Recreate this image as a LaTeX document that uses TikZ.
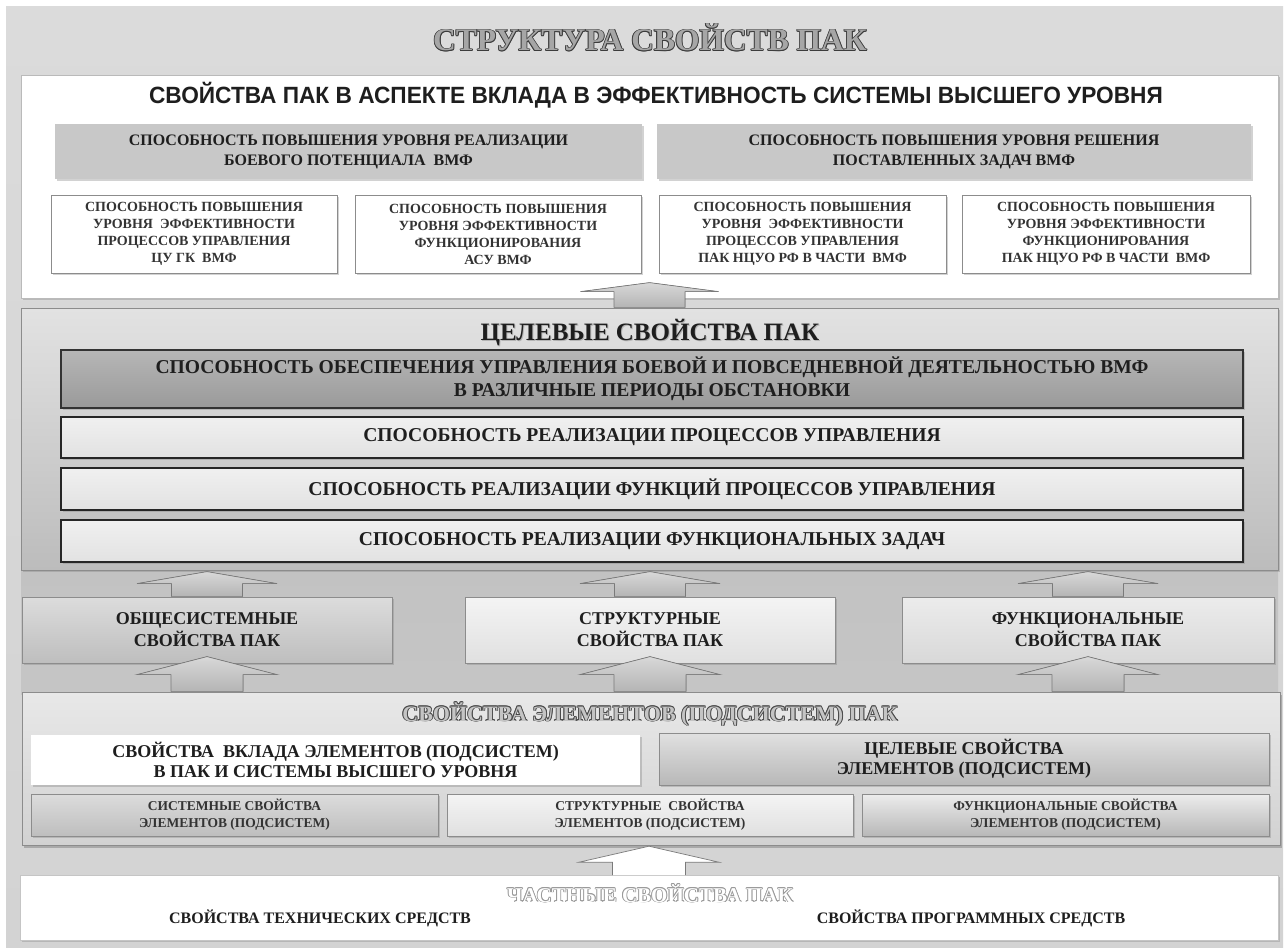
\documentclass[tikz,border=0pt]{standalone}
\usepackage{fontspec}
\setmainfont{Liberation Serif}
\newfontfamily\subsans{Liberation Sans}
\usepackage{graphicx}
\usetikzlibrary{calc,shadows}

\definecolor{cBgTop}{HTML}{DBDBDB}
\definecolor{cBgBot}{HTML}{D3D3D3}
\definecolor{cBand}{HTML}{C2C2C2}
\definecolor{cText}{HTML}{1E1E1E}
\definecolor{cTextSoft}{HTML}{333333}
\definecolor{cGrayBox}{HTML}{C8C8C8}
\definecolor{cLine}{HTML}{8C8C8C}
\definecolor{cMidTop}{HTML}{E2E2E2}
\definecolor{cMidBot}{HTML}{BCBCBC}
\definecolor{cDarkTop}{HTML}{B6B6B6}
\definecolor{cDarkBot}{HTML}{9A9A9A}
\definecolor{cLightTop}{HTML}{F0F0F0}
\definecolor{cLightBot}{HTML}{E2E2E2}
\definecolor{cPropATop}{HTML}{DCDCDC}
\definecolor{cPropABot}{HTML}{BEBEBE}
\definecolor{cPropBTop}{HTML}{F4F4F4}
\definecolor{cPropBBot}{HTML}{E0E0E0}
\definecolor{cPropCTop}{HTML}{ECECEC}
\definecolor{cPropCBot}{HTML}{D8D8D8}
\definecolor{cElTop}{HTML}{E8E8E8}
\definecolor{cElBot}{HTML}{D2D2D2}
\definecolor{cTgtTop}{HTML}{E0E0E0}
\definecolor{cTgtBot}{HTML}{B8B8B8}
\definecolor{cArrTop}{HTML}{D8D8D8}
\definecolor{cArrBot}{HTML}{B4B4B4}
\definecolor{cArrLine}{HTML}{7A7A7A}
\definecolor{cTitleFill}{HTML}{A6A6A6}
\definecolor{cTitleLine}{HTML}{3C3C3C}
\definecolor{cElTitleFill}{HTML}{C4C4C4}
\definecolor{cElTitleLine}{HTML}{4A4A4A}
\definecolor{cPartFill}{HTML}{FFFFFF}
\definecolor{cPartLine}{HTML}{9A9A9A}
\definecolor{cTextShadow}{HTML}{B4B4B4}

\newcommand\fs[2]{\fontsize{#1}{#2}\selectfont}
\newcommand\outlpart[3]{\rlap{\kern#1\raisebox{#2}{#3}}}
\newcommand\embossed[3]{%
  \leavevmode
  \outlpart{0.9pt}{0pt}{\textcolor{#2}{#3}}%
  \outlpart{-0.9pt}{0pt}{\textcolor{#2}{#3}}%
  \outlpart{0pt}{0.9pt}{\textcolor{#2}{#3}}%
  \outlpart{0pt}{-0.9pt}{\textcolor{#2}{#3}}%
  \outlpart{0.65pt}{0.65pt}{\textcolor{#2}{#3}}%
  \outlpart{-0.65pt}{0.65pt}{\textcolor{#2}{#3}}%
  \outlpart{0.65pt}{-0.65pt}{\textcolor{#2}{#3}}%
  \outlpart{-0.65pt}{-0.65pt}{\textcolor{#2}{#3}}%
  \textcolor{#1}{#3}}
\newcommand\softshadow[3]{%
  \leavevmode\outlpart{1pt}{-1pt}{\textcolor{#2}{#3}}\textcolor{#1}{#3}}

% block arrow: #1 bottom-centre coordinate, #2 length, #3 head length,
% #4 head half width, #5 shaft half width, #6 fill style
\newcommand\blockup[6]{%
  \path #1 coordinate (ab);
  \fill[#6] ($(ab)+(-#5,0)$) -- ($(ab)+(#5,0)$) -- ($(ab)+(#5,-#2+#3)$)
     -- ($(ab)+(#4,-#2+#3)$) -- ($(ab)+(0,-#2)$) -- ($(ab)+(-#4,-#2+#3)$)
     -- ($(ab)+(-#5,-#2+#3)$) -- cycle;
  \draw[arrline] ($(ab)+(#5,0)$) -- ($(ab)+(#5,-#2+#3)$)
     -- ($(ab)+(#4,-#2+#3)$) -- ($(ab)+(0,-#2)$) -- ($(ab)+(-#4,-#2+#3)$)
     -- ($(ab)+(-#5,-#2+#3)$) -- ($(ab)+(-#5,0)$);}

\tikzset{
  box/.style={inner sep=0pt, align=center, text=cText, font=\bfseries},
  shad/.style={drop shadow={opacity=0.35, shadow xshift=1.5pt, shadow yshift=-1.5pt}},
  topbox/.style={box, fill=white, draw=cLine!60, line width=0.6pt, shad},
  graybox/.style={box, fill=cGrayBox, shad, font=\bfseries\fs{16}{20}},
  outbox/.style={box, fill=white, draw=cLine, line width=0.8pt, shad, text=cTextSoft, font=\bfseries\fs{14}{17}},
  midsec/.style={box, top color=cMidTop, bottom color=cMidBot, draw=cLine, line width=0.8pt, shad},
  darkbox/.style={box, top color=cDarkTop, bottom color=cDarkBot, draw=black!80, line width=1.6pt, shad, font=\bfseries\fs{19.6}{23}},
  lightbox/.style={box, top color=cLightTop, bottom color=cLightBot, draw=black!85, line width=1.8pt, shad, font=\bfseries\fs{19.6}{23}},
  propbox/.style={box, draw=cLine, line width=0.8pt, shad, font=\bfseries\fs{18}{22}},
  elsec/.style={box, top color=cElTop, bottom color=cElBot, draw=cLine, line width=0.8pt, drop shadow={opacity=0.5, shadow xshift=2pt, shadow yshift=-2.5pt}},
  elbox/.style={box, line width=0.6pt, shad, font=\bfseries\fs{18}{20}},
  smallbox/.style={box, draw=cLine, line width=0.6pt, shad, text=cTextSoft, font=\bfseries\fs{13.5}{17}},
  partbox/.style={box, fill=white, draw=cLine!50, line width=0.6pt, shad},
  arrfill/.style={top color=cArrTop, bottom color=cArrBot},
  arrwhite/.style={fill=white},
  arrline/.style={draw=cArrLine, line width=0.7pt, line join=miter},
}

\begin{document}
\begin{tikzpicture}[x=1pt,y=-1pt]
\useasboundingbox (0,0) rectangle (1287,950);
\fill[top color=cBgTop, bottom color=cBgBot] (6,7) rectangle (1283,947);
\fill[top color=cBand, bottom color=cBand!80!cBgBot] (21,566) rectangle (1278,694);

% ---- title
\node[anchor=base, inner sep=0pt] (title) at (650,51)
  {\fs{31.5}{36}\bfseries\embossed{cTitleFill}{cTitleLine}{СТРУКТУРА СВОЙСТВ ПАК}};

% ---- top block
\node[topbox, minimum width=1257pt, minimum height=223pt] (top) at (649.5,186.5) {};
\node[anchor=base, inner sep=0pt, text=cText] (sub) at (656,103)
  {\subsans\bfseries\fs{23.5}{26}\scalebox{0.965}[1]{СВОЙСТВА ПАК В АСПЕКТЕ ВКЛАДА В ЭФФЕКТИВНОСТЬ СИСТЕМЫ ВЫСШЕГО УРОВНЯ}};

\node[graybox, minimum width=587pt, minimum height=55pt] (ga) at (348.5,151.5)
  {СПОСОБНОСТЬ ПОВЫШЕНИЯ УРОВНЯ РЕАЛИЗАЦИИ\\БОЕВОГО ПОТЕНЦИАЛА\ \ ВМФ};
\node[graybox, minimum width=594pt, minimum height=55pt] (gb) at (954,151.5)
  {СПОСОБНОСТЬ ПОВЫШЕНИЯ УРОВНЯ РЕШЕНИЯ\\ПОСТАВЛЕННЫХ ЗАДАЧ ВМФ};

\node[outbox, minimum width=286pt, minimum height=78pt] (p1) at (194,234)
  {СПОСОБНОСТЬ ПОВЫШЕНИЯ\\УРОВНЯ\ \ ЭФФЕКТИВНОСТИ\\ПРОЦЕССОВ УПРАВЛЕНИЯ\\ЦУ ГК\ \ ВМФ};
\node[outbox, minimum width=286pt, minimum height=78pt] (p2) at (498,234)
  {СПОСОБНОСТЬ ПОВЫШЕНИЯ\\УРОВНЯ ЭФФЕКТИВНОСТИ\\ФУНКЦИОНИРОВАНИЯ\\АСУ ВМФ};
\node[outbox, minimum width=287pt, minimum height=78pt] (p3) at (802.5,234)
  {СПОСОБНОСТЬ ПОВЫШЕНИЯ\\УРОВНЯ\ \ ЭФФЕКТИВНОСТИ\\ПРОЦЕССОВ УПРАВЛЕНИЯ\\ПАК НЦУО РФ В ЧАСТИ\ \ ВМФ};
\node[outbox, minimum width=288pt, minimum height=78pt] (p4) at (1106,234)
  {СПОСОБНОСТЬ ПОВЫШЕНИЯ\\УРОВНЯ ЭФФЕКТИВНОСТИ\\ФУНКЦИОНИРОВАНИЯ\\ПАК НЦУО РФ В ЧАСТИ\ \ ВМФ};

% ---- target properties block
\node[midsec, minimum width=1257pt, minimum height=262pt] (mid) at (649.5,439) {};
\node[anchor=base, inner sep=0pt, text=cText] (midtitle) at (650,340.5)
  {\fs{25}{28}\bfseries\softshadow{cText}{cTextShadow}{ЦЕЛЕВЫЕ СВОЙСТВА ПАК}};
\node[darkbox, minimum width=1182pt, minimum height=58pt] (d0) at (652,379)
  {СПОСОБНОСТЬ ОБЕСПЕЧЕНИЯ УПРАВЛЕНИЯ БОЕВОЙ И ПОВСЕДНЕВНОЙ ДЕЯТЕЛЬНОСТЬЮ ВМФ\\В РАЗЛИЧНЫЕ ПЕРИОДЫ ОБСТАНОВКИ};
\node[lightbox, minimum width=1182pt, minimum height=41pt] (d1) at (652,437.5)
  {СПОСОБНОСТЬ РЕАЛИЗАЦИИ ПРОЦЕССОВ УПРАВЛЕНИЯ};
\node[lightbox, minimum width=1182pt, minimum height=42pt] (d2) at (652,489)
  {СПОСОБНОСТЬ РЕАЛИЗАЦИИ ФУНКЦИЙ ПРОЦЕССОВ УПРАВЛЕНИЯ};
\node[lightbox, minimum width=1182pt, minimum height=42pt] (d3) at (652,541)
  {СПОСОБНОСТЬ РЕАЛИЗАЦИИ ФУНКЦИОНАЛЬНЫХ ЗАДАЧ};

% ---- three property groups
\node[propbox, top color=cPropATop, bottom color=cPropABot, minimum width=370pt, minimum height=66pt] (gen) at (207,630)
  {ОБЩЕСИСТЕМНЫЕ\\СВОЙСТВА ПАК};
\node[propbox, top color=cPropBTop, bottom color=cPropBBot, minimum width=370pt, minimum height=66pt] (str) at (650,630)
  {СТРУКТУРНЫЕ\\СВОЙСТВА ПАК};
\node[propbox, top color=cPropCTop, bottom color=cPropCBot, minimum width=372pt, minimum height=66pt] (fun) at (1088,630)
  {ФУНКЦИОНАЛЬНЫЕ\\СВОЙСТВА ПАК};

% ---- element properties block
\node[elsec, minimum width=1258pt, minimum height=153pt] (el) at (651,768.5) {};
\node[anchor=base, inner sep=0pt] (eltitle) at (650,721)
  {\fs{22}{24}\bfseries\embossed{cElTitleFill}{cElTitleLine}{СВОЙСТВА ЭЛЕМЕНТОВ (ПОДСИСТЕМ) ПАК}};
\node[elbox, fill=white, minimum width=609pt, minimum height=50pt] (contrib) at (335.5,760)
  {СВОЙСТВА\ \ ВКЛАДА ЭЛЕМЕНТОВ (ПОДСИСТЕМ)\\В ПАК И СИСТЕМЫ ВЫСШЕГО УРОВНЯ};
\node[elbox, top color=cTgtTop, bottom color=cTgtBot, draw=cLine, minimum width=610pt, minimum height=52pt] (tgt) at (964,759)
  {ЦЕЛЕВЫЕ СВОЙСТВА\\ЭЛЕМЕНТОВ (ПОДСИСТЕМ)};
\node[smallbox, top color=cPropATop, bottom color=cPropABot, minimum width=407pt, minimum height=42pt] (s1) at (234.5,815)
  {СИСТЕМНЫЕ СВОЙСТВА\\ЭЛЕМЕНТОВ (ПОДСИСТЕМ)};
\node[smallbox, top color=cPropBTop, bottom color=cPropBBot, minimum width=406pt, minimum height=42pt] (s2) at (650,815)
  {СТРУКТУРНЫЕ\ \ СВОЙСТВА\\ЭЛЕМЕНТОВ (ПОДСИСТЕМ)};
\node[smallbox, top color=cPropCTop, bottom color=cTgtBot, minimum width=407pt, minimum height=42pt] (s3) at (1065.5,815)
  {ФУНКЦИОНАЛЬНЫЕ СВОЙСТВА\\ЭЛЕМЕНТОВ (ПОДСИСТЕМ)};

% ---- particular properties block
\node[partbox, minimum width=1258pt, minimum height=65pt] (part) at (649,908) {};
\node[anchor=base, inner sep=0pt] (parttitle) at (650,902)
  {\fs{21}{24}\bfseries\embossed{cPartFill}{cPartLine}{ЧАСТНЫЕ СВОЙСТВА ПАК}};
\node[anchor=base, inner sep=0pt, text=cText] (tech) at (320,923)
  {\fs{16}{18}\bfseries СВОЙСТВА ТЕХНИЧЕСКИХ СРЕДСТВ};
\node[anchor=base, inner sep=0pt, text=cText] (soft) at (971,923)
  {\fs{16}{18}\bfseries СВОЙСТВА ПРОГРАММНЫХ СРЕДСТВ};

% ---- block arrows
\blockup{(mid.north)}{25}{9}{69}{35.5}{arrfill}
\blockup{(gen.north)}{25}{12}{70}{35.5}{arrfill}
\blockup{(str.north)}{25}{12}{70}{35.5}{arrfill}
\blockup{(fun.north)}{25}{12}{70}{35.5}{arrfill}
\blockup{(el.north -| gen.south)}{35}{18}{70}{36}{arrfill}
\blockup{(el.north -| str.south)}{35}{18}{70}{36}{arrfill}
\blockup{(el.north -| fun.south)}{35}{18}{70}{36}{arrfill}
\blockup{(part.north)}{29}{16}{70}{36.5}{arrwhite}
\end{tikzpicture}
\end{document}
